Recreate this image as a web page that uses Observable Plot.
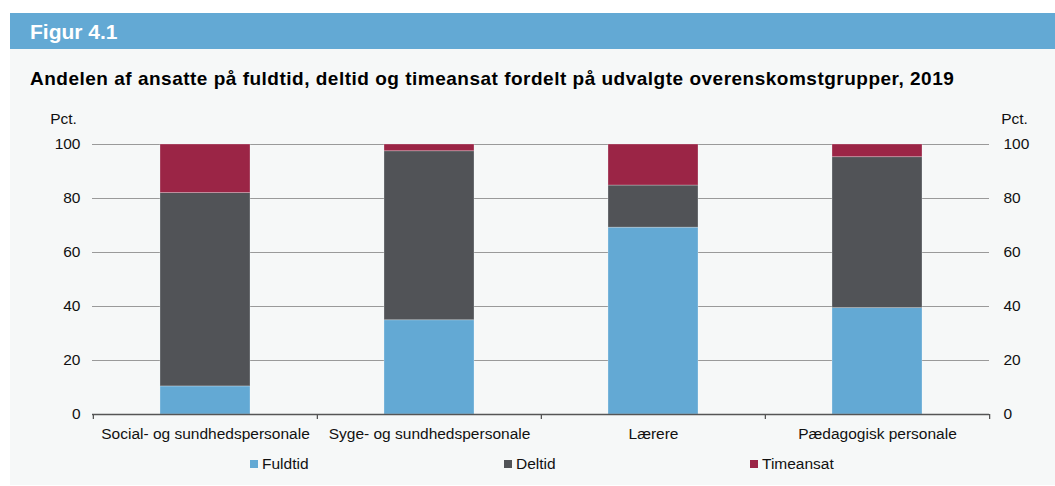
<!DOCTYPE html>
<html>
<head>
<meta charset="utf-8">
<script src="https://cdn.jsdelivr.net/npm/d3@7"></script>
<script src="https://cdn.jsdelivr.net/npm/@observablehq/plot@0.6"></script>
<style>
  html, body { margin: 0; padding: 0; background: #ffffff; }
  body { font-family: "Liberation Sans", Arial, Helvetica, sans-serif; width: 1055px; height: 486px; overflow: hidden; }
  #panel { position: absolute; left: 10px; top: 13px; width: 1045px; height: 472px; background: #f6f8f8; }
  #header { height: 36px; background: #63a9d4; color: #ffffff; font-weight: bold; font-size: 21px; line-height: 38px; padding-left: 20px; }
  #title { height: 51px; box-sizing: border-box; padding-top: 19px; padding-left: 20px; font-weight: bold; font-size: 19px; letter-spacing: 0.5px; line-height: 22px; color: #000; white-space: nowrap; }
  #chart svg { display: block; }
  #legend { position: relative; height: 30px; font-size: 15.5px; color: #111; }
  .item { position: absolute; top: 5px; display: flex; align-items: center; }
  .sw { width: 8px; height: 8px; margin-right: 4px; }
</style>
</head>
<body>
<div id="panel">
  <div id="header">Figur 4.1</div>
  <div id="title">Andelen af ansatte på fuldtid, deltid og timeansat fordelt på udvalgte overenskomstgrupper, 2019</div>
  <div id="chart"></div>
  <div id="legend"></div>
</div>
<script>
const categories = ["Social- og sundhedspersonale", "Syge- og sundhedspersonale", "Lærere", "Pædagogisk personale"];
const types = ["Fuldtid", "Deltid", "Timeansat"];
const fuldtid = [10.4, 34.9, 69.2, 39.4];
const deltid = [71.6, 62.6, 15.6, 55.9];
const timeansat = [18.0, 2.5, 15.2, 4.7];
const yTicks = [0, 20, 40, 60, 80, 100];
const colors = ["#63a9d4", "#515357", "#9b2546"];

const series = [fuldtid, deltid, timeansat];
const data = [];
categories.forEach((c, i) => types.forEach((t, j) => data.push({group: c, type: t, value: series[j][i]})));

const width = 1045, height = 350;
const marginLeft = 82, marginRight = 66, marginTop = 44, marginBottom = 36;
const step = (width - marginLeft - marginRight) / categories.length;
const fs = 15.5;

const plot = Plot.plot({
  width, height, marginLeft, marginRight, marginTop, marginBottom,
  style: {fontFamily: "'Liberation Sans', Arial, sans-serif", fontSize: fs + "px", color: "#111", background: "transparent"},
  x: {domain: categories, paddingInner: 0.6, paddingOuter: 0.3, label: null},
  y: {domain: [0, 100], ticks: yTicks, label: null},
  color: {domain: types, range: colors},
  marks: [
    Plot.gridY(yTicks.filter(d => d > 0), {stroke: "#9a9a9a", strokeOpacity: 1, strokeWidth: 1.2}),
    Plot.barY(data, {x: "group", y: "value", fill: "type", order: types, stroke: "#f6f8f8", strokeOpacity: 0.35, strokeWidth: 0.8}),
    Plot.ruleY([0], {stroke: "#555", strokeWidth: 1.5}),
    Plot.ruleX(categories, {x: d => d, y1: 0, y2: 0, insetBottom: -5, dx: -step / 2, stroke: "#555", strokeWidth: 1.3}),
    Plot.ruleX(categories.slice(-1), {x: d => d, y1: 0, y2: 0, insetBottom: -5, dx: step / 2, stroke: "#555", strokeWidth: 1.3}),
    Plot.axisY(yTicks, {anchor: "left", tickSize: 0, tickPadding: 12, label: null, fontSize: fs}),
    Plot.axisY(yTicks, {anchor: "right", tickSize: 0, tickPadding: 14, label: null, fontSize: fs}),
    Plot.axisX({tickSize: 0, tickPadding: 13, label: null, fontSize: fs}),
    Plot.text(["Pct."], {frameAnchor: "top-left", text: d => d, dx: -29, dy: -32, textAnchor: "middle", fontSize: fs}),
    Plot.text(["Pct."], {frameAnchor: "top-right", text: d => d, dx: 25, dy: -32, textAnchor: "middle", fontSize: fs})
  ]
});
document.getElementById("chart").appendChild(plot);

const legendLefts = [240, 494, 740];
const legend = document.getElementById("legend");
types.forEach((t, i) => {
  const it = document.createElement("div");
  it.className = "item";
  it.style.left = legendLefts[i] + "px";
  const sw = document.createElement("div");
  sw.className = "sw";
  sw.style.background = colors[i];
  const tx = document.createElement("span");
  tx.textContent = t;
  it.appendChild(sw); it.appendChild(tx);
  legend.appendChild(it);
});
</script>
</body>
</html>
